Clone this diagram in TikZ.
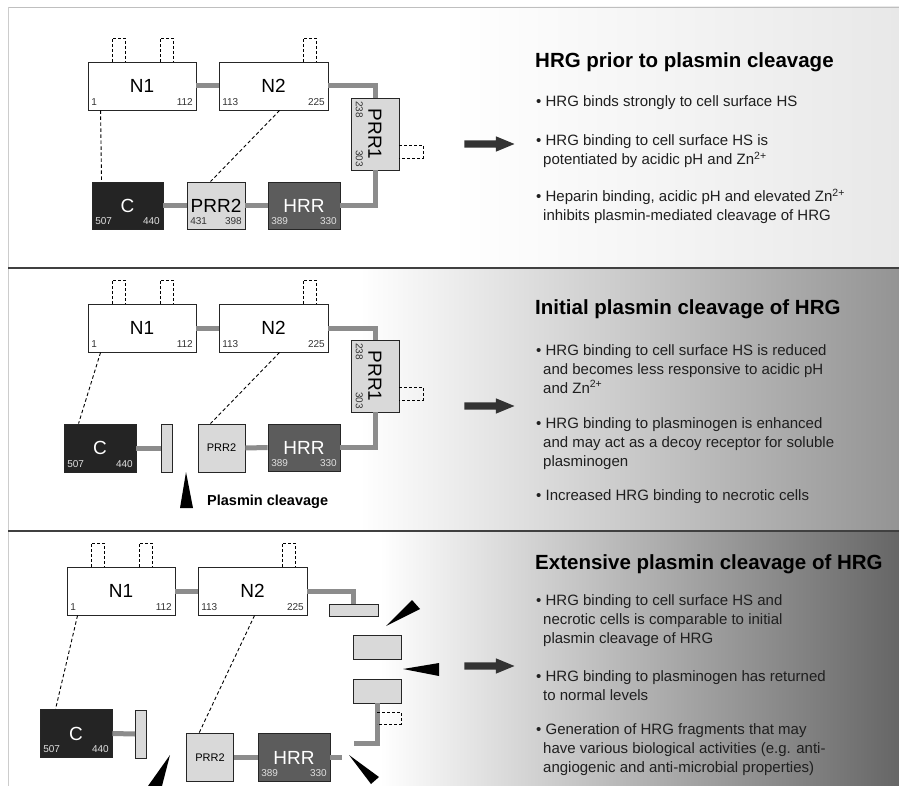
\documentclass[tikz,border=0pt]{standalone}
\usepackage{fontspec}
\setmainfont{Liberation Sans}
\usetikzlibrary{shapes.arrows}
\definecolor{linkgray}{gray}{0.55}
\definecolor{prrgray}{gray}{0.85}
\definecolor{hrrgray}{gray}{0.36}
\definecolor{cgray}{gray}{0.14}
\newcommand{\bulind}{\hspace*{7pt}}
\tikzset{
	dom/.style={draw=black!85, line width=0.9pt, minimum height=48pt, inner sep=0pt, font=\fontsize{19}{19}\selectfont},
	num/.style={inner xsep=3.5pt, inner ysep=5pt, font=\fontsize{10}{10}\selectfont, text=black!80},
	numlight/.style={num, text=black!12},
	link/.style={draw=linkgray, line width=5pt},
	bond/.style={dash pattern=on 3.5pt off 2.5pt, line width=0.9pt},
	loopline/.style={dash pattern=on 3pt off 2pt, line width=0.9pt},
	wedge/.style={fill=black},
	blockarrow/.style={single arrow, fill=black!80, minimum height=50pt, inner sep=3.5pt, single arrow head extend=4pt, single arrow tip angle=45},
	heading/.style={anchor=base west, inner sep=0pt, font=\bfseries\fontsize{20.5}{23}\selectfont},
	bullets/.style={anchor=base west, inner sep=0pt, align=left, font=\fontsize{15}{19}\selectfont, text=black!88}
}
\begin{document}
\begin{tikzpicture}[x=1pt,y=-1pt]
	\useasboundingbox (0,0) rectangle (899,786);
	\fill[white] (0,0) rectangle (899,786);
	\shade[left color=white,right color=black!9] (450,7) rectangle (899,268);
	\shade[left color=white,right color=black!42] (360,268) rectangle (899,531);
	\shade[left color=white,right color=black!60] (380,531) rectangle (899,786);
	\draw[black!25] (8,7) -- (899,7);
	\draw[black!20] (8,7) -- (8,786);
	\draw[black!75,line width=1.5pt] (8,268) -- (899,268);
	\draw[black!75,line width=1.5pt] (8,531) -- (899,531);

	\foreach \p/\dx/\dy in {a/0/0,b/0/242,c/-21/505} {
		\node[dom,fill=white,minimum width=108pt] (n1\p) at (142+\dx,86+\dy) {N1};
		\node[dom,fill=white,minimum width=109pt] (n2\p) at (273.5+\dx,86+\dy) {N2};
		\node[num,anchor=south west] (n1\p-lo) at (n1\p.south west) {1};
		\node[num,anchor=south east] (n1\p-hi) at (n1\p.south east) {112};
		\node[num,anchor=south west] (n2\p-lo) at (n2\p.south west) {113};
		\node[num,anchor=south east] (n2\p-hi) at (n2\p.south east) {225};
		\draw[link] (n1\p.east) -- (n2\p.west);
		\foreach \x in {112,160,303}
			\draw[loopline] (\x+\dx,62+\dy) -- (\x+\dx,38+\dy) -- (\x+13+\dx,38+\dy) -- (\x+13+\dx,62+\dy);
	}

	\foreach \p/\dy in {a/0,b/242} {
		\node[dom,fill=prrgray,rotate=-90,minimum width=72pt] (prr1\p) at (375,134+\dy) {PRR1};
		\node[num,rotate=-90,anchor=south west] (prr1\p-lo) at (prr1\p.south west) {238};
		\node[num,rotate=-90,anchor=south east] (prr1\p-hi) at (prr1\p.south east) {303};
		\node[dom,fill=hrrgray,text=white,minimum width=72pt,minimum height=47pt] (hrr\p) at (304,205.5+\dy) {HRR};
		\node[numlight,anchor=south west] (hrr\p-lo) at (hrr\p.south west) {389};
		\node[numlight,anchor=south east] (hrr\p-hi) at (hrr\p.south east) {330};
		\draw[link] (n2\p.east) -| (prr1\p.west);
		\draw[link] (prr1\p.east) |- (hrr\p.east);
		\draw[loopline] (399,145+\dy) -- (423,145+\dy) -- (423,158+\dy) -- (399,158+\dy);
	}

	\node[dom,fill=prrgray,minimum width=58pt,minimum height=47pt] (prr2a) at (216,205.5) {PRR2};
	\node[num,anchor=south west] (prr2a-lo) at (prr2a.south west) {431};
	\node[num,anchor=south east] (prr2a-hi) at (prr2a.south east) {398};
	\node[dom,fill=cgray,text=white,minimum width=71pt,minimum height=47pt] (ca) at (127.5,205.5) {C};
	\node[numlight,anchor=south west] (ca-lo) at (ca.south west) {507};
	\node[numlight,anchor=south east] (ca-hi) at (ca.south east) {440};
	\draw[link] (hrra.west) -- (prr2a.east);
	\draw[link] (prr2a.west) -- (ca.east);
	\draw[bond] ([xshift=13pt]n1a.south west) -- ([xshift=10pt]ca.north west);
	\draw[bond] ([xshift=61pt]n2a.south west) -- ([xshift=24pt]prr2a.north west);

	\node[dom,fill=cgray,text=white,minimum width=72pt] (cb) at (100,448) {C};
	\node[numlight,anchor=south west] (cb-lo) at (cb.south west) {507};
	\node[numlight,anchor=south east] (cb-hi) at (cb.south east) {440};
	\node[dom,fill=prrgray,minimum width=11pt] (fb) at (166.5,448) {};
	\node[dom,fill=prrgray,minimum width=47pt,font=\fontsize{11}{11}\selectfont] (prr2b) at (221.5,448) {PRR2};
	\draw[link] (cb.east) -- (fb.west);
	\draw[link] (prr2b.east) -- (hrrb.west);
	\draw[bond] ([xshift=13pt]n1b.south west) -- ([xshift=15pt]cb.north west);
	\draw[bond] ([xshift=61pt]n2b.south west) -- ([xshift=13pt]prr2b.north west);
	\fill[wedge] (186,472) -- (193,508) -- (180,508) -- cycle;
	\node[anchor=base west,inner sep=0pt,font=\bfseries\fontsize{14.5}{14.5}\selectfont] (cut) at (207,505) {Plasmin cleavage};

	\node[dom,fill=prrgray,minimum width=49pt,minimum height=12pt] (r1) at (353.5,610) {};
	\node[dom,fill=prrgray,minimum width=48pt,minimum height=24pt] (r2) at (377,647) {};
	\node[dom,fill=prrgray,minimum width=48pt,minimum height=24pt] (r3) at (377,691) {};
	\coordinate (e3) at (354,743);
	\draw[link] (n2c.east) -| (r1.north);
	\draw[link] (r3.south) |- (e3);
	\draw[loopline] (377,712) -- (401,712) -- (401,724) -- (377,724);
	\node[dom,fill=cgray,text=white,minimum width=72pt] (cc) at (76,733.5) {C};
	\node[numlight,anchor=south west] (cc-lo) at (cc.south west) {507};
	\node[numlight,anchor=south east] (cc-hi) at (cc.south east) {440};
	\node[dom,fill=prrgray,minimum width=11pt] (fc) at (141,734) {};
	\node[dom,fill=prrgray,minimum width=47pt,font=\fontsize{11}{11}\selectfont] (prr2c) at (210,757.5) {PRR2};
	\node[dom,fill=hrrgray,text=white,minimum width=72pt] (hrrc) at (294,757.5) {HRR};
	\node[numlight,anchor=south west] (hrrc-lo) at (hrrc.south west) {389};
	\node[numlight,anchor=south east] (hrrc-hi) at (hrrc.south east) {330};
	\coordinate (e4) at (342,757.5);
	\draw[link] (cc.east) -- (fc.west);
	\draw[link] (prr2c.east) -- (hrrc.west);
	\draw[link] (hrrc.east) -- (e4);
	\draw[bond] ([xshift=11pt]n1c.south west) -- ([xshift=16pt]cc.north west);
	\draw[bond] ([xshift=57pt]n2c.south west) -- ([xshift=13pt]prr2c.north west);
	\fill[wedge] (386,626) -- (412,600) -- (420,609) -- cycle;
	\fill[wedge] (403,669) -- (439,663) -- (439,676) -- cycle;
	\fill[wedge] (170,755) -- (162,786) -- (148,786) -- cycle;
	\fill[wedge] (349,755) -- (379,777) -- (371,784) -- cycle;

	\foreach \p/\y in {a/144,b/406,c/666}
		\node[blockarrow] (arr\p) at (485,\y) {};

	\node[heading] (ta) at (535,68) {HRG prior to plasmin cleavage};
	\node[bullets] (ta1) at (536,107) {\textbullet\ HRG binds strongly to cell surface HS};
	\node[bullets] (ta2) at (536,165) {\textbullet\ HRG binding to cell surface HS is\\\bulind potentiated by acidic pH and Zn\textsuperscript{2+}};
	\node[bullets] (ta3) at (536,221) {\textbullet\ Heparin binding, acidic pH and elevated Zn\textsuperscript{2+}\\\bulind inhibits plasmin-mediated cleavage of HRG};

	\node[heading] (tb) at (535,314) {Initial plasmin cleavage of HRG};
	\node[bullets] (tb1) at (536,393) {\textbullet\ HRG binding to cell surface HS is reduced\\\bulind and becomes less responsive to acidic pH\\\bulind and Zn\textsuperscript{2+}};
	\node[bullets] (tb2) at (536,466) {\textbullet\ HRG binding to plasminogen is enhanced\\\bulind and may act as a decoy receptor for soluble\\\bulind plasminogen};
	\node[bullets] (tb3) at (536,500) {\textbullet\ Increased HRG binding to necrotic cells};

	\node[heading] (tc) at (535,569) {Extensive plasmin cleavage of HRG};
	\node[bullets] (tc1) at (536,643) {\textbullet\ HRG binding to cell surface HS and\\\bulind necrotic cells is comparable to initial\\\bulind plasmin cleavage of HRG};
	\node[bullets] (tc2) at (536,700) {\textbullet\ HRG binding to plasminogen has returned\\\bulind to normal levels};
	\node[bullets] (tc3) at (536,772) {\textbullet\ Generation of HRG fragments that may\\\bulind have various biological activities (e.g. anti-\\\bulind angiogenic and anti-microbial properties)};
\end{tikzpicture}
\end{document}
